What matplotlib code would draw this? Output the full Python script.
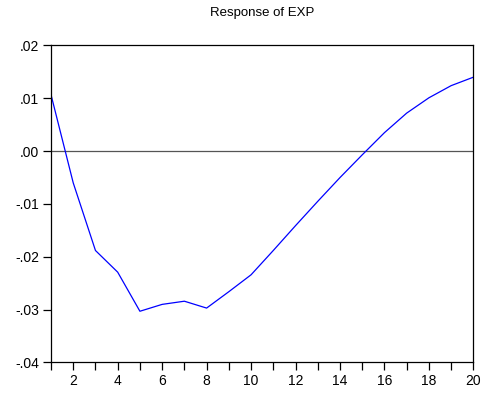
import numpy as np
import matplotlib
matplotlib.use('Agg')
import matplotlib.pyplot as plt

plt.rcParams['font.family'] = ['Liberation Sans', 'DejaVu Sans']

# impulse response, periods 1..20
periods = list(range(1, 21))
response = [0.0107, -0.0060, -0.0188, -0.0229, -0.0303, -0.0290, -0.0284, -0.0297,
            -0.0266, -0.0234, -0.0188, -0.0141, -0.0095, -0.0050, -0.0007,
            0.0035, 0.0072, 0.0101, 0.0124, 0.0140]

y_ticks = [-0.04, -0.03, -0.02, -0.01, 0.00, 0.01, 0.02]
y_labels = ['-.04', '-.03', '-.02', '-.01', '.00', '.01', '.02']
x_labels = ['2', '4', '6', '8', '10', '12', '14', '16', '18', '20']

fig = plt.figure(figsize=(4.88, 3.98), dpi=100)
ax = fig.add_axes([0.1045, 0.0892, 0.8655, 0.7965])

ax.axhline(0, color='#555555', lw=0.9, zorder=1)
ax.plot(periods, response, color='#0000ff', lw=0.9, zorder=2)

ax.set_xlim(1, 20)
ax.set_ylim(-0.04, 0.02)
ax.set_xticks(periods)
ax.set_xticklabels(['' if p % 2 else x_labels[p // 2 - 1] for p in periods])
ax.set_yticks(y_ticks)
ax.set_yticklabels(y_labels)

ax.tick_params(axis='both', direction='out', length=6, width=0.9, pad=2.5,
               labelsize=10, color='black')
for s in ax.spines.values():
    s.set_linewidth(0.9)
    s.set_color('black')

ax.set_title('Response of EXP', fontsize=9.5, pad=21)

fig.savefig('out.png', dpi=100)
